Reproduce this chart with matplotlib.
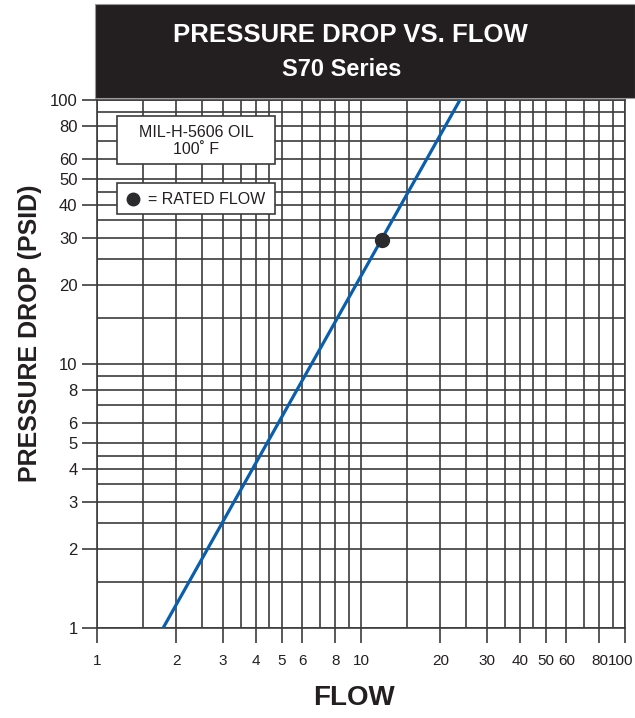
import matplotlib.pyplot as plt
from matplotlib.patches import Rectangle
from matplotlib.ticker import FixedLocator, NullFormatter
from matplotlib.transforms import ScaledTranslation

plt.rcParams['font.family'] = ['Liberation Sans', 'DejaVu Sans']

# Data
flow = [1.78, 23.7]
pressure_drop = [1, 100]
rated_flow = [12]
rated_dp = [29.5]

major_ticks = [1, 2, 3, 4, 5, 6, 8, 10, 20, 30, 40, 50, 60, 80, 100]
major_labels = ['1', '2', '3', '4', '5', '6', '8', '10', '20', '30', '40', '50', '60', '80', '100']
minor_ticks = [1.5, 2.5, 3.5, 4.5, 7, 9, 15, 25, 35, 45, 70, 90]

grid_color = '#3c3c3c'
text_color = '#231f20'
W, H = 635, 718

fig = plt.figure(figsize=(W / 100, H / 100), dpi=100)
ax = fig.add_axes([97 / W, 1 - 628 / H, (625 - 97) / W, (628 - 100) / H])

ax.set_xscale('log')
ax.set_yscale('log')
ax.set_xlim(1, 100)
ax.set_ylim(1, 100)

for axis in (ax.xaxis, ax.yaxis):
    axis.set_major_locator(FixedLocator(major_ticks))
    axis.set_minor_locator(FixedLocator(minor_ticks))
    axis.set_minor_formatter(NullFormatter())
ax.set_xticklabels(major_labels)
ax.set_yticklabels(major_labels)

ax.grid(True, which='both', color=grid_color, linewidth=1.2)
ax.tick_params(which='major', direction='out', length=11, width=1.2, color=grid_color,
               labelcolor=text_color)
ax.tick_params(axis='x', which='major', labelsize=11, pad=8)
ax.tick_params(axis='y', which='major', labelsize=12, pad=3)
ax.tick_params(which='minor', length=0)
for s in ax.spines.values():
    s.set_color(grid_color)
    s.set_linewidth(1.2)

# keep the last x label inside the figure
last = ax.get_xticklabels()[-1]
last.set_transform(last.get_transform() + ScaledTranslation(-4 / 100, 0, fig.dpi_scale_trans))

ax.plot(flow, pressure_drop, color='#0a5fad', linewidth=2.3, zorder=3)
ax.plot(rated_flow, rated_dp, 'o', color='#2b2b2e', markersize=10, zorder=4)

# legend boxes
ax.add_patch(Rectangle((117 / W, 1 - 164 / H), 158 / W, 48 / H, transform=fig.transFigure,
                       facecolor='white', edgecolor=grid_color, linewidth=1.2, zorder=5))
fig.text(196 / W, 1 - 141 / H, 'MIL-H-5606 OIL\n100˚ F', ha='center', va='center',
         fontsize=11.5, linespacing=1.15, color=text_color, zorder=6)
ax.add_patch(Rectangle((117 / W, 1 - 214 / H), 158 / W, 31 / H, transform=fig.transFigure,
                       facecolor='white', edgecolor=grid_color, linewidth=1.2, zorder=5))
ax.plot([133 / W], [1 - 199 / H], 'o', color='#2b2b2e', markersize=9,
        transform=fig.transFigure, zorder=6, clip_on=False)
fig.text(148 / W, 1 - 199 / H, '= RATED FLOW', ha='left', va='center',
         fontsize=11.5, color=text_color, zorder=6)

# title box
fig.patches.append(Rectangle((95 / W, 1 - 98 / H), 1 - 95 / W, 94 / H, transform=fig.transFigure,
                             facecolor=text_color, edgecolor='#9a9a9a', linewidth=0.8))
fig.text(350 / W, 1 - 35 / H, 'PRESSURE DROP VS. FLOW', ha='center', va='center',
         fontsize=18.5, fontweight='bold', color='white')
fig.text(342 / W, 1 - 69 / H, 'S70 Series', ha='center', va='center',
         fontsize=17, fontweight='bold', color='white')

fig.text(30 / W, 1 - 333 / H, 'PRESSURE DROP (PSID)', rotation=90, ha='center', va='center',
         fontsize=18, fontweight='bold', color=text_color)
fig.text(354 / W, 1 - 698 / H, 'FLOW', ha='center', va='center',
         fontsize=20, fontweight='bold', color=text_color)

fig.savefig('out.png', dpi=100)
